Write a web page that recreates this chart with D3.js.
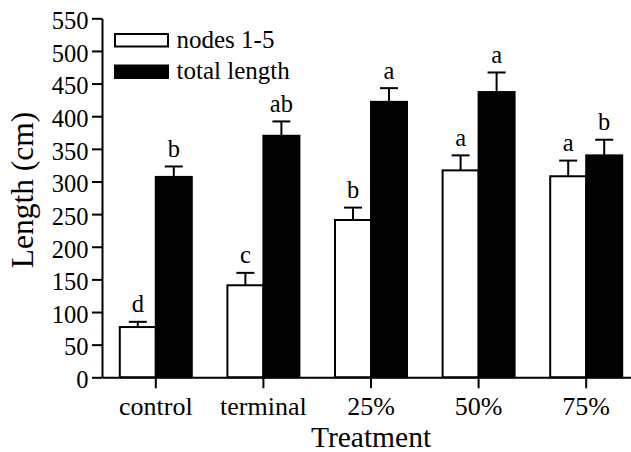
<!DOCTYPE html>
<html><head><meta charset="utf-8">
<script src="https://cdn.jsdelivr.net/npm/d3@7"></script>
<style>body{margin:0;background:#fff}svg{display:block}</style>
</head><body><svg id="c" width="631" height="452"></svg>
<script>
const categories = ["control","terminal","25%","50%","75%"];
const seriesNames = ["nodes 1-5","total length"];
const nodesValues = [77, 141, 241, 317, 308];
const nodesErrors = [8, 19, 19, 23, 24];
const totalValues = [307, 370, 422, 437, 340];
const totalErrors = [16, 22, 21, 30, 24];
const nodesLetters = ["d","c","b","a","a"];
const totalLetters = ["b","ab","a","a","b"];
const yTicks = [0,50,100,150,200,250,300,350,400,450,500,550];

const FF = "'Liberation Serif', 'Times New Roman', serif";
const svg = d3.select("#c");
const x0 = d3.scaleBand().domain(categories).range([102, 640]).padding(0);
const x1 = d3.scaleBand().domain(seriesNames).range([-36, 36]).padding(0);
const y = d3.scaleLinear().domain([0,550]).range([377.3, 18.3]);
const fills = {"nodes 1-5":"#fff","total length":"#000"};

function ff(sel){sel.style("font-family",FF).attr("fill","#000");}

const rows = [];
categories.forEach((c,i)=>{
  rows.push({c, s:seriesNames[0], v:nodesValues[i], e:nodesErrors[i], l:nodesLetters[i]});
  rows.push({c, s:seriesNames[1], v:totalValues[i], e:totalErrors[i], l:totalLetters[i]});
});
const cx = d => x0(d.c)+x0.bandwidth()/2 + x1(d.s) + x1.bandwidth()/2;

// error bars
const eg = svg.append("g").attr("stroke","#000").attr("stroke-width",2);
eg.selectAll("line.v").data(rows).join("line").attr("class","v")
  .attr("x1",cx).attr("x2",cx).attr("y1",d=>y(d.v)).attr("y2",d=>y(d.v+d.e));
eg.selectAll("line.h").data(rows).join("line").attr("class","h")
  .attr("x1",d=>cx(d)-9).attr("x2",d=>cx(d)+9).attr("y1",d=>y(d.v+d.e)).attr("y2",d=>y(d.v+d.e));

// bars
svg.append("g").selectAll("rect").data(rows).join("rect")
  .attr("x",d=>x0(d.c)+x0.bandwidth()/2 + x1(d.s))
  .attr("width",x1.bandwidth())
  .attr("y",d=>y(d.v)).attr("height",d=>y(0)-y(d.v))
  .attr("fill",d=>fills[d.s]).attr("stroke","#000").attr("stroke-width",2);

// letters
svg.append("g").selectAll("text").data(rows).join("text")
  .call(ff)
  .attr("x",cx).attr("y",d=>y(d.v+d.e)-9.5)
  .attr("text-anchor","middle").style("font-size","24.5px").text(d=>d.l);

// y axis
const ya = svg.append("g").attr("transform","translate(102,0)")
  .call(d3.axisLeft(y).tickValues(yTicks).tickSize(10).tickPadding(3.5).tickSizeOuter(0));
ya.attr("font-family",FF);
ya.select(".domain").attr("stroke-width",2);
ya.selectAll(".tick line").attr("stroke-width",2);
ya.selectAll(".tick text").call(ff).attr("dy","0.42em").style("font-size","24.5px");

// x axis
const xa = svg.append("g").attr("transform",`translate(0,${y(0)})`)
  .call(d3.axisBottom(x0).tickSize(11).tickPadding(8).tickSizeOuter(0));
xa.attr("font-family",FF);
xa.select(".domain").attr("stroke-width",2);
xa.selectAll(".tick line").attr("stroke-width",2);
xa.selectAll(".tick text").call(ff).attr("dy","0.71em").style("font-size","26px");

// axis titles
svg.append("text").call(ff).attr("x",371).attr("y",447).attr("text-anchor","middle")
  .style("font-size","29.5px").text("Treatment");
svg.append("text").call(ff).attr("transform","translate(33,190) rotate(-90)").attr("text-anchor","middle")
  .style("font-size","31.5px").text("Length (cm)");

// legend
const lg = svg.append("g");
seriesNames.forEach((s,i)=>{
  lg.append("rect").attr("x",115).attr("y",34+i*31.5).attr("width",53).attr("height",12.5)
    .attr("fill",fills[s]).attr("stroke","#000").attr("stroke-width",2);
  lg.append("text").call(ff).attr("x",176.5).attr("y",47.7+i*30.8).style("font-size","25px").text(s);
});
</script></body></html>
